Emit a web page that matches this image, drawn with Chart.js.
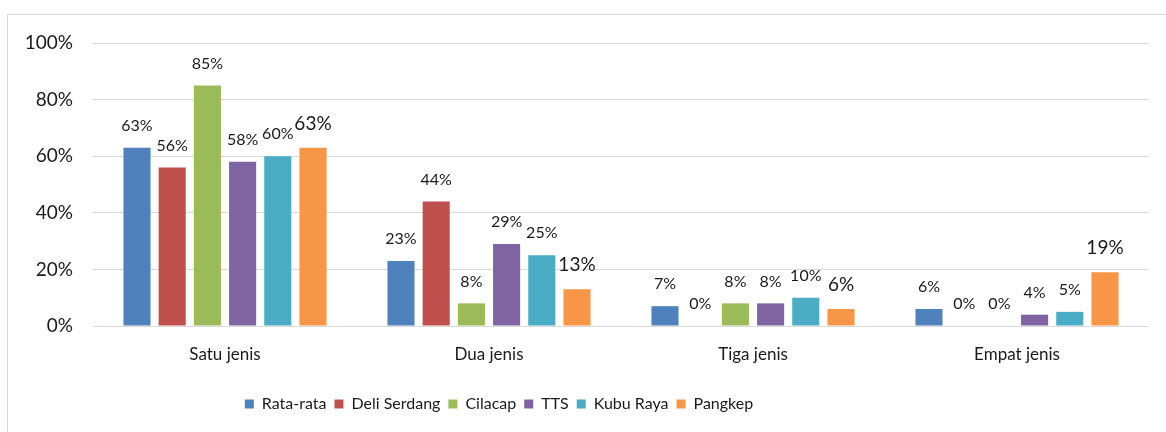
<!DOCTYPE html>
<html>
<head>
<meta charset="utf-8">
<script src="https://cdn.jsdelivr.net/npm/chart.js@4.4.1/dist/chart.umd.min.js"></script>
<style>
  html, body { margin: 0; padding: 0; background: #fff; overflow: hidden; }
  #wrap { position: relative; width: 1166px; height: 432px; }
  #frame { position: absolute; left: 7px; top: 14px; width: 1200px; height: 500px; border: 1px solid #d9d9d9; box-sizing: border-box; }
  canvas { position: absolute; left: 0; top: 0; }
</style>
</head>
<body>
<div id="wrap">
  <div id="frame"></div>
  <canvas id="chart" width="1166" height="432"></canvas>
</div>
<script>
// categories and series (percent)
const categories = ['Satu jenis', 'Dua jenis', 'Tiga jenis', 'Empat jenis'];
const rataRata    = [63, 23, 7, 6];
const deliSerdang = [56, 44, 0, 0];
const cilacap     = [85, 8, 8, 0];
const tts         = [58, 29, 8, 4];
const kubuRaya    = [60, 25, 10, 5];
const pangkep     = [63, 13, 6, 19];
const yTicks = [0, 20, 40, 60, 80, 100];

const FONT = 'Lato, "Open Sans", sans-serif';
const TEXT = '#1a1a1a';

const series = [
  { label: 'Rata-rata', data: rataRata, color: '#4F81BD' },
  { label: 'Deli Serdang', data: deliSerdang, color: '#C0504D' },
  { label: 'Cilacap', data: cilacap, color: '#9BBB59' },
  { label: 'TTS', data: tts, color: '#8064A2' },
  { label: 'Kubu Raya', data: kubuRaya, color: '#4BACC6' },
  { label: 'Pangkep', data: pangkep, color: '#F79646' }
];

// value labels above each bar (Pangkep ones are bigger in the original)
const barLabels = {
  id: 'barLabels',
  afterDatasetsDraw(chart) {
    const ctx = chart.ctx;
    ctx.save();
    ctx.fillStyle = TEXT;
    ctx.textAlign = 'center';
    ctx.textBaseline = 'middle';
    chart.data.datasets.forEach((ds, i) => {
      const big = ds.label === 'Pangkep';
      ctx.font = (big ? '19px ' : '16px ') + FONT;
      chart.getDatasetMeta(i).data.forEach((bar, j) => {
        ctx.fillText(ds.data[j] + '%', bar.x, bar.y - (big ? 24 : 22));
      });
    });
    ctx.restore();
  }
};

// move the legend so it sits where the original had it
const legendShift = {
  id: 'legendShift',
  afterUpdate(chart) {
    const L = chart.legend;
    if (!L) return;
    const w = L.right - L.left;
    const center = 499;
    L.left = center - w / 2;
    L.right = center + w / 2;
  }
};

new Chart(document.getElementById('chart'), {
  type: 'bar',
  data: {
    labels: categories,
    datasets: series.map(s => ({
      label: s.label, data: s.data, backgroundColor: s.color,
      categoryPercentage: 0.8, barPercentage: 0.77
    }))
  },
  options: {
    responsive: false,
    animation: false,
    layout: { padding: { left: 7, right: 17, top: 43, bottom: 10 } },
    plugins: {
      tooltip: { enabled: false },
      legend: {
        position: 'bottom',
        labels: { boxWidth: 9, boxHeight: 9, padding: 8, color: TEXT, font: { family: FONT, size: 16 } }
      }
    },
    scales: {
      x: {
        grid: { display: false, drawTicks: false },
        border: { display: false },
        ticks: { padding: 18, color: TEXT, font: { family: FONT, size: 17 } },
        afterFit: s => { s.height = 62; }
      },
      y: {
        min: 0, max: 100,
        afterBuildTicks: s => { s.ticks = yTicks.map(v => ({ value: v })); },
        grid: { color: '#d9d9d9', lineWidth: 1, drawTicks: false },
        border: { display: false },
        ticks: { padding: 20, color: TEXT, font: { family: FONT, size: 19 }, callback: v => v + '%' },
        afterFit: s => { s.width = 86; }
      }
    }
  },
  plugins: [barLabels, legendShift]
});
</script>
</body>
</html>
